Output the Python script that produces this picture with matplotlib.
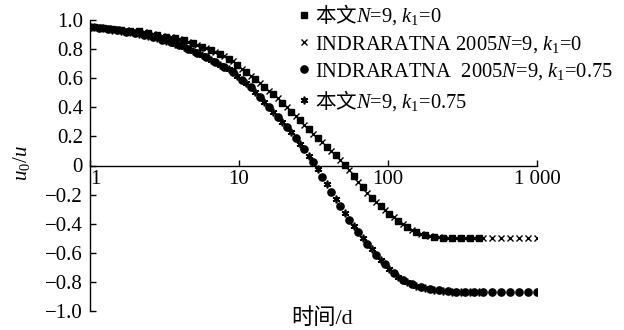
import matplotlib
matplotlib.use('Agg')
import matplotlib.pyplot as plt

plt.rcParams['font.family'] = ['Liberation Serif', 'Noto Sans CJK SC']
# custom mathtext so that Chinese can sit inside a math string (\mathsf)
plt.rcParams['mathtext.fontset'] = 'custom'
plt.rcParams['mathtext.rm'] = 'Liberation Serif'
plt.rcParams['mathtext.it'] = 'Liberation Serif:italic'
plt.rcParams['mathtext.sf'] = 'Noto Sans CJK SC'

#(0) Data:
# INDRARATNA 2005 series (time in days)
t_ind = [1, 1.15, 1.32, 1.51, 1.74, 2.0, 2.29, 2.63, 3.02, 3.47, 3.98, 4.57, 5.25, 6.03,
         6.92, 7.94, 9.12, 10.5, 12.0, 13.8, 15.8, 18.2, 20.9, 24.0, 27.5, 31.6, 36.3,
         41.7, 47.9, 55.0, 63.1, 72.4, 83.2, 95.5, 110, 126, 145, 166, 191, 219, 251,
         288, 331, 380, 437, 501, 575, 661, 759, 871, 1000]
ind_k0 = [0.955, 0.950, 0.945, 0.938, 0.930, 0.925, 0.917, 0.905, 0.893, 0.880, 0.868,
          0.852, 0.827, 0.805, 0.780, 0.750, 0.715, 0.665, 0.618, 0.567, 0.514, 0.462,
          0.400, 0.342, 0.280, 0.218, 0.160, 0.100, 0.040, -0.028, -0.110, -0.190,
          -0.250, -0.304, -0.355, -0.405, -0.445, -0.472, -0.487, -0.494, -0.497,
          -0.498, -0.499, -0.500, -0.500, -0.500, -0.500, -0.500, -0.500, -0.500, -0.500]
ind_k075 = [0.955, 0.948, 0.938, 0.928, 0.920, 0.912, 0.898, 0.882, 0.865, 0.848, 0.828,
            0.800, 0.770, 0.745, 0.710, 0.675, 0.645, 0.590, 0.540, 0.470, 0.400, 0.335,
            0.265, 0.190, 0.110, 0.025, -0.080, -0.180, -0.280, -0.375, -0.460, -0.540,
            -0.615, -0.680, -0.740, -0.786, -0.815, -0.835, -0.850, -0.858, -0.864,
            -0.867, -0.868, -0.868, -0.868, -0.868, -0.868, -0.868, -0.868, -0.868, -0.868]

# 本文 series
t_bw = [1.07, 1.23, 1.41, 1.62, 1.86, 2.14, 2.46, 2.82, 3.24, 3.72, 4.27, 4.90, 5.62,
        6.46, 7.41, 8.51, 9.77, 11.2, 12.9, 14.8, 17.0, 19.5, 22.4, 25.7, 29.5, 33.9,
        38.9, 44.7, 51.3, 58.9, 67.6, 77.6, 89.1, 102, 117, 135, 155, 178, 204, 234,
        269, 309, 355, 407]
bw_k0 = [0.952, 0.947, 0.941, 0.934, 0.927, 0.921, 0.911, 0.899, 0.886, 0.874, 0.860,
         0.840, 0.816, 0.792, 0.765, 0.732, 0.690, 0.641, 0.592, 0.540, 0.488, 0.431,
         0.371, 0.311, 0.249, 0.189, 0.130, 0.070, 0.006, -0.069, -0.150, -0.220,
         -0.277, -0.330, -0.380, -0.425, -0.458, -0.480, -0.490, -0.495, -0.497,
         -0.498, -0.499, -0.499]
bw_k075 = [0.951, 0.943, 0.933, 0.924, 0.916, 0.905, 0.890, 0.873, 0.856, 0.838, 0.814,
           0.785, 0.757, 0.727, 0.692, 0.660, 0.617, 0.565, 0.505, 0.435, 0.367, 0.300,
           0.227, 0.150, 0.067, -0.027, -0.130, -0.230, -0.327, -0.417, -0.500, -0.577,
           -0.647, -0.710, -0.763, -0.800, -0.825, -0.842, -0.854, -0.861, -0.866,
           -0.867, -0.868, -0.868]

x_ticks = [1, 10, 100, 1000]
x_labels = ['1', '10', '100', '1 000']
y_ticks = [1.0, 0.8, 0.6, 0.4, 0.2, 0, -0.2, -0.4, -0.6, -0.8, -1.0]
y_labels = ['1.0', '0.8', '0.6', '0.4', '0.2', '0', '\u22120.2', '\u22120.4',
            '\u22120.6', '\u22120.8', '\u22121.0']

labels = [r'$\mathsf{本文}N$=9, $k_\mathrm{1}$=0',
          r'INDRARATNA 2005$N$=9, $k_\mathrm{1}$=0',
          r'INDRARATNA  2005$N$=9, $k_\mathrm{1}$=0.75',
          r'$\mathsf{本文}N$=9, $k_\mathrm{1}$=0.75']

#(1) Plot:
fig = plt.figure(figsize=(6.24, 3.30), dpi=100)
ax = fig.add_axes([90/624, 19/330, 447/624, 291/330])

ax.plot(t_bw, bw_k0, ls='none', marker='s', ms=4.5, color='k', label=labels[0])
ax.plot(t_ind, ind_k0, ls='none', marker='x', ms=5, mew=1, color='k', label=labels[1])
ax.plot(t_ind, ind_k075, ls='none', marker='o', ms=5.2, color='k', label=labels[2])
ax.plot(t_bw, bw_k075, ls='none', marker=(6, 2, 0), ms=5.5, mew=1.2, color='k',
        label=labels[3])

ax.set_xscale('log')
ax.set_xlim(1, 1000)
ax.set_ylim(-1, 1)
ax.spines['top'].set_visible(False)
ax.spines['right'].set_visible(False)
ax.spines['bottom'].set_position(('data', 0))
for s in ('left', 'bottom'):
    ax.spines[s].set_linewidth(1.0)

ax.set_xticks(x_ticks)
ax.set_xticklabels(x_labels)
ax.xaxis.set_minor_locator(matplotlib.ticker.NullLocator())
ax.set_yticks(y_ticks)
ax.set_yticklabels(y_labels)
ax.tick_params(axis='both', direction='in', length=4, width=1, labelsize=15)
ax.tick_params(axis='y', pad=5)
ax.tick_params(axis='x', pad=3)
ax.get_xticklabels()[0].set_horizontalalignment('left')

fig.text(21/624, 1 - 163/330, '$u_0/u$', rotation=90, ha='center', va='center',
         fontsize=15)
fig.text(322/624, 1 - 319/330, '时间/d', ha='center', va='center', fontsize=16)

ax.legend(loc='upper left', bbox_to_anchor=(0.465, 1.06), frameon=False, fontsize=14.8,
          borderpad=0, handlelength=0.55, handletextpad=0.3, labelspacing=0.3,
          borderaxespad=0)

fig.savefig('out.png', dpi=100)
